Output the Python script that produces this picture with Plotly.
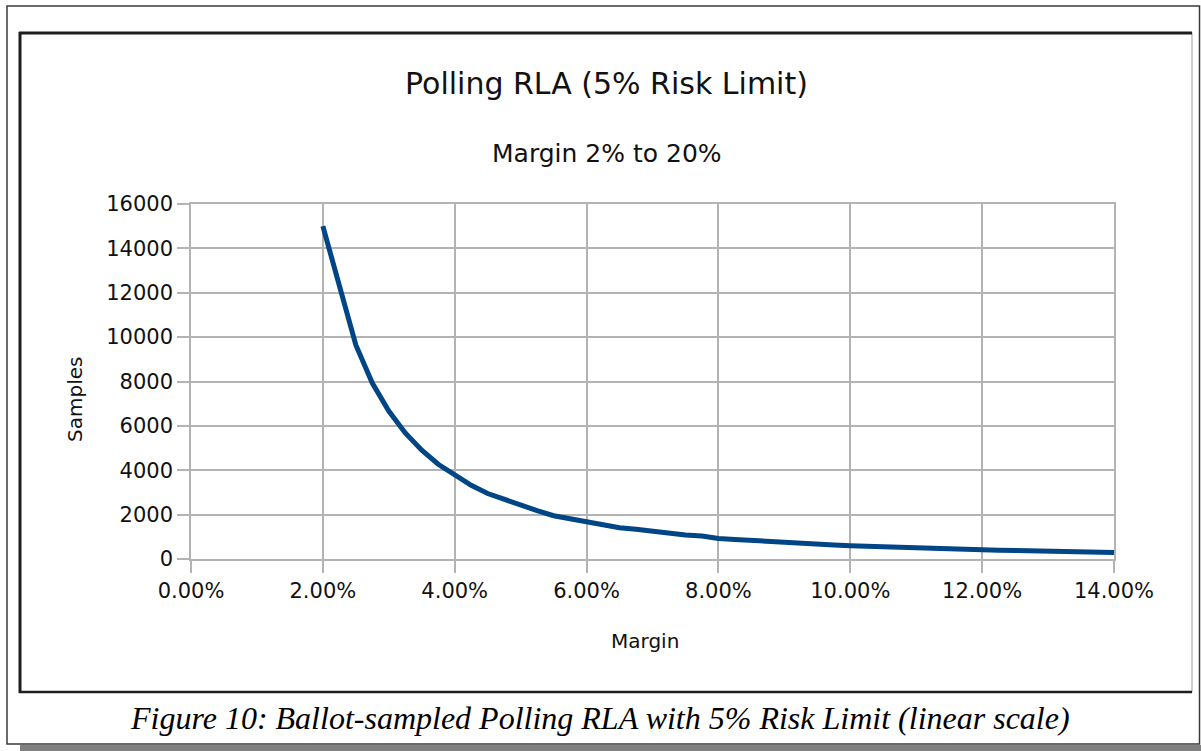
import plotly.graph_objects as go

# ---- data ----
margin = [0.02, 0.025, 0.0275, 0.03, 0.0325, 0.035, 0.0375, 0.04, 0.0425, 0.045,
          0.0475, 0.05, 0.0525, 0.055, 0.0575, 0.06, 0.0625, 0.065, 0.0675, 0.07,
          0.0725, 0.075, 0.0775, 0.08, 0.0825, 0.085, 0.0875, 0.09, 0.0925, 0.095,
          0.0975, 0.10, 0.1025, 0.105, 0.1075, 0.11, 0.1125, 0.115, 0.1175, 0.12,
          0.1225, 0.125, 0.1275, 0.13, 0.1325, 0.135, 0.1375, 0.14]
samples = [15000, 9650, 7930, 6670, 5680, 4900, 4270, 3780, 3320, 2950,
           2680, 2400, 2180, 1950, 1820, 1680, 1540, 1410, 1340, 1250,
           1150, 1080, 1040, 920, 880, 830, 784, 741, 701, 665,
           631, 600, 571, 544, 519, 496, 474, 454, 435, 417,
           400, 384, 369, 355, 342, 329, 317, 295]

x_ticks = [0, 0.02, 0.04, 0.06, 0.08, 0.10, 0.12, 0.14]
y_ticks = [0, 2000, 4000, 6000, 8000, 10000, 12000, 14000, 16000]

title_text = "Polling RLA (5% Risk Limit)"
subtitle_text = "Margin 2% to 20%"
x_title = "Margin"
y_title = "Samples"
caption_text = "Figure 10: Ballot-sampled Polling RLA with 5% Risk Limit (linear scale)"

# ---- layout geometry (pixels) ----
W, H = 1201, 751
L, R, T, B = 191, 1114, 204, 559
PW, PH = R - L, B - T


def px(x):
    return (x - L) / PW


def py(y):
    return (B - y) / PH


SANS = "DejaVu Sans"
fig = go.Figure()
fig.add_trace(go.Scatter(x=margin, y=samples, mode="lines",
                         line=dict(color="#004586", width=5),
                         showlegend=False, hoverinfo="skip"))

grid = "#b3b3b3"
fig.update_xaxes(range=[0, 0.14], tickvals=x_ticks, tickformat=".2%",
                 showgrid=True, gridcolor=grid, gridwidth=1.5,
                 showline=True, linecolor=grid, linewidth=1.5, mirror=True,
                 ticks="outside", ticklen=12, tickcolor=grid, tickwidth=1.5,
                 tickfont=dict(family=SANS, size=21, color="#111"),
                 zeroline=False)
fig.update_yaxes(range=[0, 16000], tickvals=y_ticks, tickformat="d",
                 showgrid=True, gridcolor=grid, gridwidth=1.5,
                 showline=True, linecolor=grid, linewidth=1.5, mirror=True,
                 ticks="outside", ticklen=12, tickcolor=grid, tickwidth=1.5,
                 tickfont=dict(family=SANS, size=21, color="#111"),
                 zeroline=False)

shapes = [
    # shadow under the outer frame
    dict(type="rect", xref="paper", yref="paper", x0=px(20), x1=px(1201),
         y0=py(745), y1=py(752), fillcolor="#808080", line=dict(width=0), layer="below"),
    # outer frame
    dict(type="rect", xref="paper", yref="paper", x0=px(7), x1=px(1199.5),
         y0=py(744), y1=py(6), line=dict(color="#3a3a3a", width=1.5), layer="below"),
    # inner chart box: light right edge
    dict(type="rect", xref="paper", yref="paper", x0=px(20), x1=px(1192),
         y0=py(692), y1=py(33), line=dict(color="#b0b0b0", width=1.2), layer="below"),
    # dark left/top/bottom edges
    dict(type="line", xref="paper", yref="paper", x0=px(20), x1=px(20),
         y0=py(693), y1=py(32), line=dict(color="#1e1e1e", width=3), layer="below"),
    dict(type="line", xref="paper", yref="paper", x0=px(19), x1=px(1192),
         y0=py(33), y1=py(33), line=dict(color="#1e1e1e", width=3), layer="below"),
    dict(type="line", xref="paper", yref="paper", x0=px(19), x1=px(1192),
         y0=py(692), y1=py(692), line=dict(color="#1e1e1e", width=2.5), layer="below"),
]

annotations = [
    dict(text=title_text, x=px(606), y=py(83), xref="paper", yref="paper",
         showarrow=False, xanchor="center", yanchor="middle",
         font=dict(family=SANS, size=30, color="#111")),
    dict(text=subtitle_text, x=px(607), y=py(153), xref="paper", yref="paper",
         showarrow=False, xanchor="center", yanchor="middle",
         font=dict(family=SANS, size=25, color="#111")),
    dict(text=x_title, x=px(645), y=py(641), xref="paper", yref="paper",
         showarrow=False, xanchor="center", yanchor="middle",
         font=dict(family=SANS, size=20, color="#111")),
    dict(text=y_title, x=px(75), y=py(400), xref="paper", yref="paper",
         showarrow=False, xanchor="center", yanchor="middle", textangle=-90,
         font=dict(family=SANS, size=20, color="#111")),
    dict(text="<i>" + caption_text + "</i>", x=px(600), y=py(718), xref="paper", yref="paper",
         showarrow=False, xanchor="center", yanchor="middle",
         font=dict(family="Liberation Serif", size=32, color="#000")),
]

fig.update_layout(width=W, height=H, autosize=False,
                  margin=dict(l=L, r=W - R, t=T, b=H - B, pad=0),
                  paper_bgcolor="white", plot_bgcolor="white",
                  shapes=shapes, annotations=annotations, showlegend=False)

fig.write_html("out.html", config={"displayModeBar": False},
               post_script="document.body.style.margin='0';document.body.style.padding='0';")
